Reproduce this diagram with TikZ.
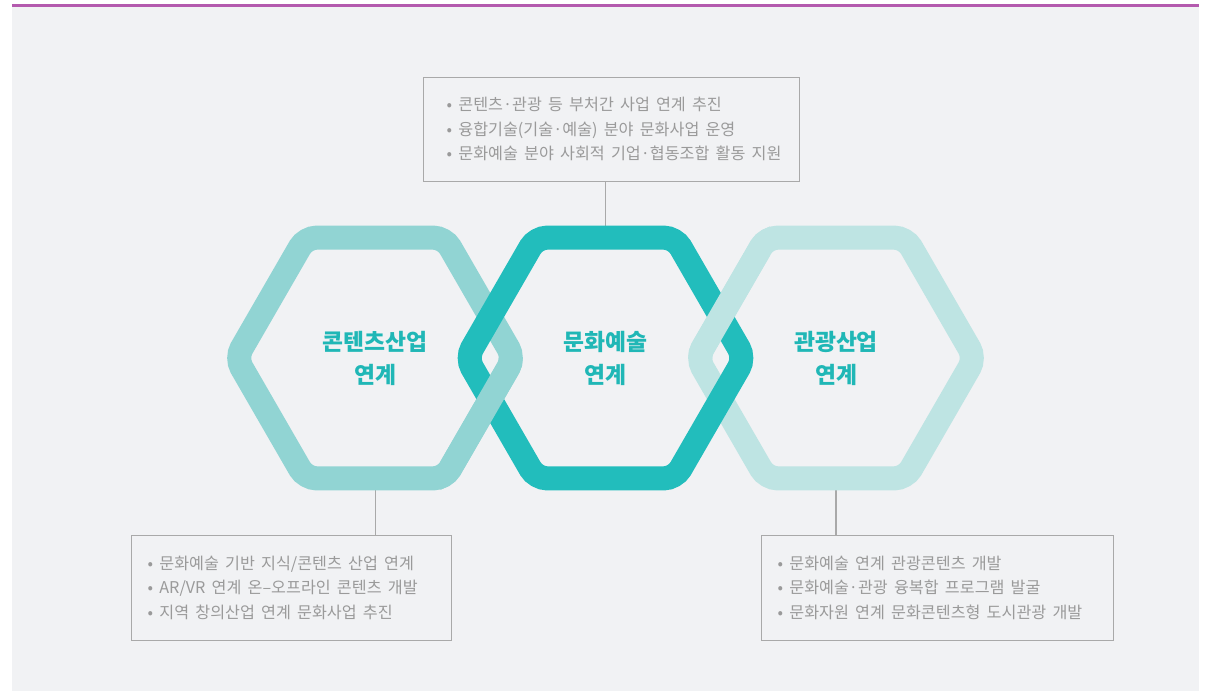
\documentclass[tikz,border=0pt]{standalone}
\usepackage{fontspec}
\newfontfamily\kr{Noto Sans CJK KR}
\newfontfamily\krw[WordSpace=1.7]{Noto Sans CJK KR}
\definecolor{bgcol}{HTML}{F1F2F4}
\definecolor{purplecol}{HTML}{B45AAE}
\definecolor{leftcol}{HTML}{91D4D3}
\definecolor{midcol}{HTML}{22BDBC}
\definecolor{rightcol}{HTML}{BEE4E3}
\definecolor{lblcol}{HTML}{20B7B6}
\definecolor{boxline}{HTML}{A9A9A9}
\definecolor{boxtext}{HTML}{9A9A9A}
\newcommand\hexat[3]{\draw[hexband,draw=#3,shift={(#1,#2)}] (330:120.38) -- (0:139) -- (60:139) -- (120:139) -- (180:139) -- (240:139) -- (300:139) -- cycle;}
\begin{document}
\begin{tikzpicture}[x=1pt,y=-1pt,
  hexband/.style={line width=24pt, rounded corners=11pt},
  lbl/.style={text=lblcol, align=center, inner sep=0pt, font=\kr\bfseries\fontsize{22.8}{33}\selectfont},
  infobox/.style={draw=boxline, line width=1pt, fill=bgcol, inner sep=0pt},
  infotext/.style={text=boxtext, align=left, inner sep=0pt, anchor=west, font=\krw\fontsize{16.2}{24.5}\selectfont},
  conn/.style={draw=boxline, line width=1.3pt}]
\useasboundingbox (0,0) rectangle (1215,691);
\fill[bgcol] (12,7) rectangle (1199,691);
\draw[purplecol, line width=3pt] (12,5.5) -- (1199,5.5);

% info boxes
\node[infobox, minimum width=376pt, minimum height=104pt] (topbox) at (611,129) {};
\node[infotext] (toptext) at ([xshift=24pt]topbox.west) {• 콘텐츠·관광 등 부처간 사업 연계 추진\\• 융합기술(기술·예술) 분야 문화사업 운영\\• 문화예술 분야 사회적 기업·협동조합 활동 지원};
\node[infobox, minimum width=320pt, minimum height=105pt] (leftbox) at (291,587.5) {};
\node[infotext] (lefttext) at ([xshift=17pt]leftbox.west) {• 문화예술 기반 지식/콘텐츠 산업 연계\\• AR/VR 연계 온–오프라인 콘텐츠 개발\\• 지역 창의산업 연계 문화사업 추진};
\node[infobox, minimum width=352pt, minimum height=105pt] (rightbox) at (937,587.5) {};
\node[infotext] (righttext) at ([xshift=17pt]rightbox.west) {• 문화예술 연계 관광콘텐츠 개발\\• 문화예술·관광 융복합 프로그램 발굴\\• 문화자원 연계 문화콘텐츠형 도시관광 개발};

% hexagon edge points
\coordinate (hCtop) at (605.5,230);
\coordinate (hLbot) at (375.5,486);
\coordinate (hRbot) at (836,486);

% connectors
\draw[conn] (topbox.south -| hCtop) -- (hCtop);
\draw[conn] (hLbot) -- (leftbox.north -| hLbot);
\draw[conn] (hRbot) -- (rightbox.north -| hRbot);

% hexagons (interlaced)
\hexat{375}{358}{leftcol}
\hexat{836}{358}{rightcol}
\hexat{605.5}{358}{midcol}
\begin{scope}
  \clip (440,358) rectangle (560,505);
  \hexat{375}{358}{leftcol}
\end{scope}
\begin{scope}
  \clip (650,210) rectangle (770,358);
  \hexat{836}{358}{rightcol}
\end{scope}

% labels
\node[lbl] (lblL) at (375,358) {콘텐츠산업\\연계};
\node[lbl] (lblC) at (605.5,358) {문화예술\\연계};
\node[lbl] (lblR) at (836,358) {관광산업\\연계};
\end{tikzpicture}
\end{document}
